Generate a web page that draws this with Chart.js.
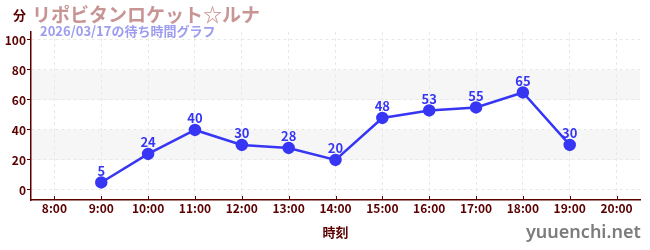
<!DOCTYPE html>
<html>
<head>
<meta charset="utf-8">
<script src="https://cdn.jsdelivr.net/npm/chart.js@4"></script>
<style>
  body { margin: 0; background: #fff; font-family: "Noto Sans CJK JP", "Noto Sans", sans-serif; }
  #wrap { position: relative; width: 650px; height: 250px; }
  canvas { position: absolute; left: 0; top: 0; }
  .txt { position: absolute; white-space: nowrap; font-weight: bold; }
  #unit { left: 13px; top: 5px; font-size: 13px; color: #5a0000; }
  #title { left: 32px; top: 0px; font-size: 19px; color: #c89595; }
  #sub { left: 40px; top: 21px; font-size: 13px; color: #9c9cf0; }
  #mark { left: 526px; top: 219px; font-size: 18px; color: #7c7c7c; font-family: "Noto Sans", sans-serif; font-weight: 600; }
</style>
</head>
<body>
<div id="wrap">
  <canvas id="waitChart" width="650" height="250"></canvas>
  <div class="txt" id="unit">分</div>
  <div class="txt" id="title">リポビタンロケット☆ルナ</div>
  <div class="txt" id="sub">2026/03/17の待ち時間グラフ</div>
  <div class="txt" id="mark">yuuenchi.net</div>
</div>
<script>
// 時刻ラベル
const hours = ['8:00', '9:00', '10:00', '11:00', '12:00', '13:00', '14:00',
               '15:00', '16:00', '17:00', '18:00', '19:00', '20:00'];
// 待ち時間（分）
const waitTimes = [null, 5, 24, 40, 30, 28, 20, 48, 53, 55, 65, 30, null];
// 縦軸の目盛り
const yTicks = [0, 10, 20, 30, 40, 50, 60, 70, 80, 90, 100];
// 背景の帯
const bands = [[20, 40], [60, 80]];

const axisColor = '#5a0000';
const lineColor = '#3636f4';
const fontFamily = '"Noto Sans CJK JP", sans-serif';

// 帯を描く
const bandPlugin = {
    id: 'bands',
    beforeDraw(chart) {
        const { ctx, chartArea, scales } = chart;
        ctx.save();
        ctx.fillStyle = '#f6f6f6';
        bands.forEach(b => {
            const y1 = scales.y.getPixelForValue(b[1]);
            const y0 = scales.y.getPixelForValue(b[0]);
            ctx.fillRect(chartArea.left, y1, chartArea.right - chartArea.left, y0 - y1);
        });
        ctx.restore();
    }
};

// 横軸の内側に小さい目盛り線
const xTickMarks = {
    id: 'xTickMarks',
    afterDraw(chart) {
        const { ctx, scales } = chart;
        const x = scales.x;
        ctx.save();
        ctx.strokeStyle = axisColor;
        ctx.lineWidth = 1;
        hours.forEach((h, i) => {
            const px = Math.round(x.getPixelForTick(i)) + 0.5;
            ctx.beginPath();
            ctx.moveTo(px, x.top - 4);
            ctx.lineTo(px, x.top);
            ctx.stroke();
        });
        ctx.restore();
    }
};

// 点の上に数値を書く
const valueLabels = {
    id: 'valueLabels',
    afterDatasetsDraw(chart) {
        const ctx = chart.ctx;
        const meta = chart.getDatasetMeta(0);
        ctx.save();
        ctx.font = 'bold 13px ' + fontFamily;
        ctx.fillStyle = lineColor;
        ctx.textAlign = 'center';
        ctx.textBaseline = 'bottom';
        meta.data.forEach((pt, i) => {
            const v = waitTimes[i];
            if (v === null) return;
            ctx.fillText(String(v), pt.x, pt.y - 5);
        });
        ctx.restore();
    }
};

const ctx = document.getElementById('waitChart');
new Chart(ctx, {
    type: 'line',
    data: {
        labels: hours,
        datasets: [{
            data: waitTimes,
            borderColor: lineColor,
            backgroundColor: lineColor,
            borderWidth: 2.5,
            pointRadius: 5,
            pointHoverRadius: 5,
            tension: 0,
            spanGaps: false
        }]
    },
    options: {
        responsive: false,
        animation: false,
        layout: { padding: { top: 32, right: 10, left: 0, bottom: 10 } },
        plugins: {
            legend: { display: false },
            tooltip: { enabled: false }
        },
        scales: {
            x: {
                offset: true,
                border: { color: axisColor, width: 1.5, dash: [3, 3] },
                grid: {
                    offset: false,
                    color: '#e8e8e8',
                    drawTicks: false
                },
                ticks: {
                    color: axisColor,
                    font: { size: 12, weight: 'bold', family: fontFamily },
                    padding: 1,
                    maxRotation: 0,
                    autoSkip: false
                },
                title: {
                    display: true,
                    text: '時刻',
                    color: axisColor,
                    font: { size: 13, weight: 'bold', family: fontFamily },
                    padding: { top: 8, bottom: 0 }
                }
            },
            y: {
                min: -6.7,
                max: 105.3,
                border: { color: axisColor, width: 1.5, dash: [3, 3] },
                afterBuildTicks(axis) {
                    axis.ticks = yTicks.map(v => ({ value: v }));
                },
                grid: {
                    color: c => (c.tick && c.tick.value % 20 === 0) ? '#e8e8e8' : 'rgba(0,0,0,0)',
                    tickColor: c => (c.tick && c.tick.value % 20 === 0) ? axisColor : '#dd2222',
                    tickLength: 4
                },
                ticks: {
                    color: axisColor,
                    font: { size: 12, weight: 'bold', family: fontFamily },
                    padding: 1,
                    callback: v => (v % 20 === 0 ? v : '')
                },
                afterFit(scale) { scale.width = 31; }
            }
        }
    },
    plugins: [bandPlugin, valueLabels, xTickMarks]
});
</script>
</body>
</html>
